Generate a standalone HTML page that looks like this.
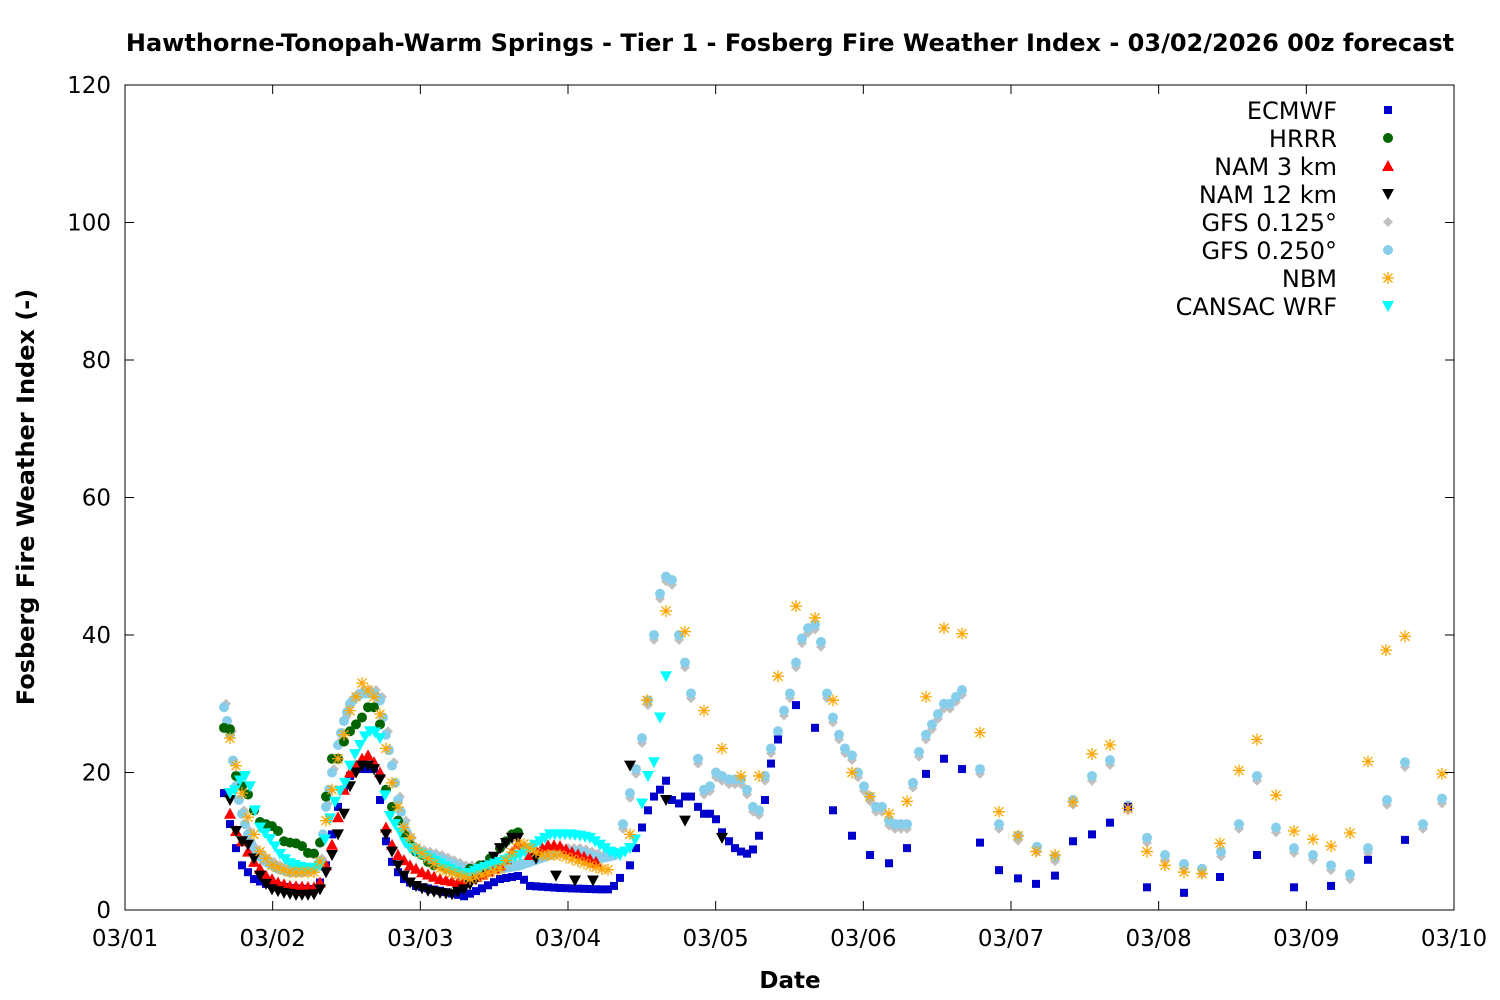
<!DOCTYPE html>
<html><head><meta charset="utf-8"><style>
html,body{margin:0;padding:0;background:#fff;}
svg{display:block;font-family:"DejaVu Sans","Liberation Sans",sans-serif;}
</style></head><body>
<svg id="s" width="1500" height="1000" xmlns="http://www.w3.org/2000/svg">
<rect width="1500" height="1000" fill="#fff"/>
<text x="790" y="51" text-anchor="middle" font-size="24" font-weight="bold">Hawthorne-Tonopah-Warm Springs - Tier 1 - Fosberg Fire Weather Index - 03/02/2026 00z forecast</text>
<text x="790" y="988" text-anchor="middle" font-size="23" font-weight="bold">Date</text>
<text transform="translate(34,497) rotate(-90)" text-anchor="middle" font-size="24" font-weight="bold">Fosberg Fire Weather Index (-)</text>
<g id="ax"></g>
<g id="pts"></g>
<g id="leg" font-size="24" text-anchor="end"></g>
</svg>
<script>
var NS="http://www.w3.org/2000/svg";
var ax=document.getElementById('ax'),P=document.getElementById('pts'),L=document.getElementById('leg');
function el(p,tag,a,t){var e=document.createElementNS(NS,tag);for(var k in a)e.setAttribute(k,a[k]);if(t!=null)e.textContent=t;p.appendChild(e);return e;}
var X0=125,X1=1454,Y0=910,Y1=85;
function Y(v){return Y0-(v/120)*(Y0-Y1);}
el(ax,'rect',{x:X0,y:Y1,width:X1-X0,height:Y0-Y1,fill:'none',stroke:'#000','stroke-width':1});
for(var v=0;v<=120;v+=20){var y=Y(v);
 el(ax,'line',{x1:X0,y1:y,x2:X0+9,y2:y,stroke:'#000'});el(ax,'line',{x1:X1,y1:y,x2:X1-9,y2:y,stroke:'#000'});
 el(ax,'text',{x:111,y:y+8,'text-anchor':'end','font-size':23},v);}
for(var d=0;d<=9;d++){var x=X0+d*(X1-X0)/9;
 el(ax,'line',{x1:x,y1:Y0,x2:x,y2:Y0-9,stroke:'#000'});el(ax,'line',{x1:x,y1:Y1,x2:x,y2:Y1+9,stroke:'#000'});
 el(ax,'text',{x:x,y:946,'text-anchor':'middle','font-size':23},'03/'+(d<9?'0'+(d+1):'10'));}
function mk(g,type,x,y){
 if(type=='sq')el(g,'rect',{x:x-4,y:y-4,width:8,height:8,fill:'#0000cc'});
 else if(type=='ci')el(g,'circle',{cx:x,cy:y,r:5,fill:'#006400'});
 else if(type=='up')el(g,'polygon',{points:(x-6)+','+(y+5)+' '+(x+6)+','+(y+5)+' '+x+','+(y-6),fill:'#ff0000'});
 else if(type=='dn')el(g,'polygon',{points:(x-6)+','+(y-5)+' '+(x+6)+','+(y-5)+' '+x+','+(y+6),fill:'#000'});
 else if(type=='cy')el(g,'polygon',{points:(x-6)+','+(y-5)+' '+(x+6)+','+(y-5)+' '+x+','+(y+6),fill:'#00ffff'});
 else if(type=='di')el(g,'polygon',{points:x+','+(y-5)+' '+(x+5)+','+y+' '+x+','+(y+5)+' '+(x-5)+','+y,fill:'#c0c0c0'});
 else if(type=='pe')el(g,'circle',{cx:x,cy:y,r:5,fill:'#87ceeb'});
 else if(type=='as'){var s='M'+(x-6)+' '+y+'h12M'+x+' '+(y-6)+'v12M'+(x-4.5)+' '+(y-4.5)+'l9 9M'+(x-4.5)+' '+(y+4.5)+'l9 -9';el(g,'path',{d:s,stroke:'#ffa500','stroke-width':1.3,fill:'none'});}
}
function dense(kp,step,from,to){var out=[];from=from||kp[0][0];to=to||kp[kp.length-1][0];
 for(var x=from;x<=to+0.01;x+=step){for(var i=0;i<kp.length-1;i++){if(x>=kp[i][0]&&x<=kp[i+1][0]){var t=(x-kp[i][0])/((kp[i+1][0]-kp[i][0])||1);out.push([x,kp[i][1]+t*(kp[i+1][1]-kp[i][1])]);break;}}}return out;}
function plot(type,arr){arr.forEach(function(p){mk(P,type,p[0],Y(p[1]));});}
var gEarly=[[224,29.5],[230,25.5],[236,18],[242,14],[248,11],[254,8.5],[266,7],[278,6],[290,5.5],[302,5.5],[314,6],[320,7],[326,15],[332,20],[338,24],[344,27.5],[350,30],[356,31],[362,31.5],[374,31.5],[380,30.5],[386,25.5],[392,21],[398,16],[404,12.5],[410,10],[416,8.5],[440,7.5],[464,6],[500,6],[520,6.5],[540,7.5],[560,8.5],[580,8.5],[600,7.5],[616,8]];
var gMid=[[623,12.5],[630,17],[636,20.5],[642,25],[648,30.5],[654,40],[660,46],[666,48.5],[672,48],[679,40],[685,36],[691,31.5],[698,22],[704,17.5],[710,18],[716,20],[722,19.5],[729,19],[735,19],[741,19],[747,17.5],[753,15],[759,14.5],[765,19.5],[771,23.5],[778,26],[784,29],[790,31.5],[796,36],[802,39.5],[808,41],[815,41.5],[821,39],[827,31.5],[833,28],[839,25.5],[845,23.5],[852,22.5],[858,20],[864,18],[870,16.5],[876,15],[882,15],[889,13],[895,12.5],[901,12.5],[907,12.5],[913,18.5],[919,23],[926,25.5],[932,27],[938,28.5],[944,30],[950,30],[956,31],[962,32],[980,20.5],[999,12.5],[1018,10.8],[1037,9.2],[1055,7.8],[1073,16],[1092,19.5],[1110,21.8],[1128,15.2],[1147,10.5],[1165,8],[1184,6.7],[1202,6],[1221,8.5],[1239,12.5],[1257,19.5],[1276,12],[1294,9],[1313,8],[1331,6.5],[1350,5.2],[1368,9],[1387,16],[1405,21.5],[1423,12.5],[1442,16.2]];
plot('di',dense(gEarly,6).map(function(p){return [p[0]+2,p[1]+0.5];}));
plot('di',gMid.map(function(p){return [p[0],p[1]-0.7];}));
plot('pe',dense(gEarly,3));
plot('pe',gMid);
var eK=[[224,17],[230,12.5],[236,9],[242,6.5],[248,5.5],[254,4.5],[266,3.8],[290,3.2],[314,3],[320,4],[326,6.5],[332,11],[338,15],[344,17.5],[350,19.5],[356,20.5],[374,20.5],[380,16],[386,10],[392,7],[398,5.5],[404,4.5],[416,3.5],[440,2.8],[464,2],[480,3],[500,4.5],[520,5],[530,3.5],[560,3.2],[600,3],[612,3],[618,4.5],[624,5]];
plot('sq',dense(eK,6));
plot('sq',[[630,6.5],[636,9],[642,12],[648,14.5],[654,16.5],[660,17.5],[666,18.8],[672,16],[679,15.5],[685,16.5],[691,16.5],[698,15],[704,14],[710,14],[716,13.2],[722,11.3],[729,10],[735,9],[741,8.5],[747,8.2],[753,8.8],[759,10.8],[765,16],[771,21.3],[778,24.8],[796,29.8],[815,26.5],[833,14.5],[852,10.8],[870,8],[889,6.8],[907,9],[926,19.8],[944,22],[962,20.5],[980,9.8],[999,5.8],[1018,4.6],[1036,3.8],[1055,5],[1073,10],[1092,11],[1110,12.7],[1128,15],[1147,3.3],[1184,2.5],[1220,4.8],[1257,8],[1294,3.3],[1331,3.5],[1368,7.3],[1405,10.2]]);
plot('ci',[[224,26.5],[230,26.3],[236,19.5],[242,18],[248,16.8],[254,14.5],[260,12.8],[266,12.5],[272,12.2],[278,11.5],[284,10],[290,9.8],[296,9.7],[302,9.3],[308,8.3],[314,8.2],[320,9.8],[326,16.5],[332,22],[338,22],[344,24.5],[350,26],[356,27],[362,28],[368,29.5],[374,29.5],[380,27],[386,17.5],[392,15],[398,13],[404,11],[410,9.5],[416,8.5],[422,8],[428,7],[434,6.5],[446,6],[458,5.5],[470,6],[480,6.5],[490,7.5],[500,9],[506,10],[512,11],[518,11.3]]);
plot('up',dense([[230,14],[236,11.5],[242,10],[248,8.5],[254,7],[260,6],[266,5],[272,4.5],[278,4],[290,3.5],[314,3.3],[320,4],[326,6.5],[332,9.5],[338,13.5],[344,17.5],[350,20],[356,21],[362,22],[368,22.5],[374,21.5],[380,20],[386,12],[392,9.5],[398,8],[410,6.5],[422,5.5],[440,4.5],[460,4],[480,5],[500,6.5],[510,8],[520,10],[530,8],[540,9],[550,9.5],[560,9.3],[570,8.5],[580,8],[596,7]],6));
plot('dn',dense([[230,16],[236,11.5],[242,10],[248,9.5],[254,7.5],[260,5],[266,3.8],[272,3],[284,2.5],[296,2.2],[308,2.2],[314,2.3],[320,3],[326,5.5],[332,8],[338,11],[344,14],[350,18],[356,20],[362,21],[368,21],[374,20.5],[380,19],[386,11],[392,8.5],[398,6.5],[404,5],[410,4],[416,3.5],[428,2.8],[440,2.5],[452,2.3],[464,3],[476,4.5],[488,6.5],[500,9],[512,10.5],[518,10.5]],6));
plot('dn',[[536,7.5],[556,5],[575,4.3],[593,4.3],[630,21],[666,16],[685,13],[722,10.5]]);
plot('cy',dense([[230,17],[236,17.5],[242,19.5],[248,19.5],[254,15],[260,12],[266,11],[272,10],[278,8.5],[284,7.5],[290,6.8],[302,6.2],[314,6],[320,6.5],[326,11],[332,14.5],[338,17],[344,18],[350,21],[356,23],[362,24.5],[368,26],[374,26],[380,25],[386,15],[392,13],[398,12],[404,10],[410,9],[416,8.5],[430,7.5],[450,6],[464,5],[480,6],[500,7],[520,8],[530,9],[540,10],[550,11],[570,11],[580,10.8],[590,10.5],[600,9.5],[610,8.5],[620,8],[630,9],[636,10.5]],5));
plot('cy',[[642,15.5],[648,19.5],[654,21.5],[660,28],[666,34]]);
plot('as',dense([[230,25],[236,21],[242,17],[248,13.5],[254,11],[260,8.5],[272,6.5],[290,5.5],[314,5.5],[320,7],[326,13],[338,22],[350,29],[362,33],[374,31],[380,28.5],[386,23.5],[392,18.5],[398,15],[404,12],[416,9],[440,6],[470,4.5],[500,6],[520,10],[540,8],[560,8],[580,7],[600,6],[612,5.8]],6));
plot('as',[[630,11],[647,30.5],[666,43.5],[685,40.5],[704,29],[722,23.5],[741,19.5],[759,19.5],[778,34],[796,44.2],[815,42.5],[833,30.5],[852,20],[870,16.5],[889,14],[907,15.8],[926,31],[944,41],[962,40.2],[980,25.8],[999,14.3],[1018,10.8],[1036,8.5],[1055,8],[1073,15.7],[1092,22.7],[1110,24],[1128,14.8],[1147,8.5],[1165,6.5],[1184,5.5],[1202,5.3],[1220,9.7],[1239,20.3],[1257,24.8],[1276,16.7],[1294,11.5],[1313,10.3],[1331,9.3],[1350,11.2],[1368,21.6],[1386,37.8],[1405,39.8],[1442,19.8]]);
var names=['ECMWF','HRRR','NAM 3 km','NAM 12 km','GFS 0.125°','GFS 0.250°','NBM','CANSAC WRF'];
var types=['sq','ci','up','dn','di','pe','as','cy'];
names.forEach(function(n,i){var y=110+i*28;el(L,'rect',{x:1165,y:y-14,width:180,height:26,fill:'#fff'});el(L,'text',{x:1337,y:y+9},n);mk(L,types[i],1388,y);});
</script>
</body></html>
